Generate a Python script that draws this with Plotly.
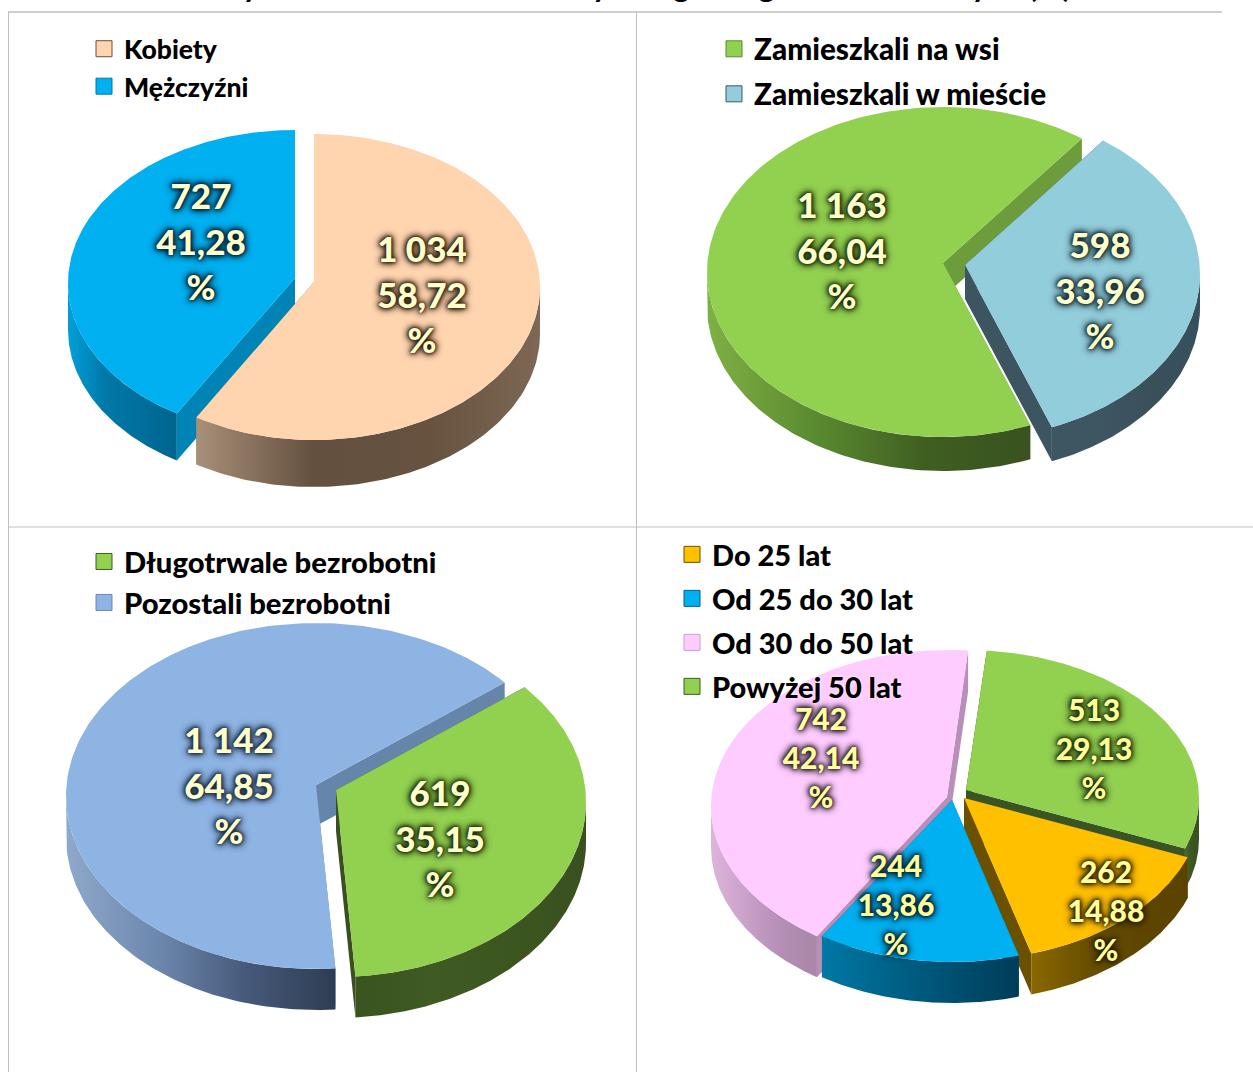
import numpy as np
import plotly.graph_objects as go

W, H = 1253, 1072
FONT = "Lato"

# ---------- data ----------
names_1 = ["Kobiety", "Mężczyźni"]
counts_1 = [1034, 727]
pcts_1 = ["58,72", "41,28"]

names_2 = ["Zamieszkali na wsi", "Zamieszkali w mieście"]
counts_2 = [1163, 598]
pcts_2 = ["66,04", "33,96"]

names_3 = ["Długotrwale bezrobotni", "Pozostali bezrobotni"]
counts_3 = [619, 1142]
pcts_3 = ["35,15", "64,85"]

names_4 = ["Do 25 lat", "Od 25 do 30 lat", "Od 30 do 50 lat", "Powyżej 50 lat"]
counts_4 = [262, 244, 742, 513]
pcts_4 = ["14,88", "13,86", "42,14", "29,13"]

title_text = "Wybrane dane o bezrobotnych wg kategorii bezrobotnych (%)"

# ---------- styles / layout ----------
PEACH = dict(top="#FFD5B0", face="#8f7762", side=["#a89079", "#64503f", "#66523f", "#7d6755"], glow="#2e1c0c")
SKY = dict(top="#00B0F0", face="#0084b6", side=["#00a0d8", "#0078a8", "#006f9c", "#00648c"], glow="#001f33")
GRN2 = dict(top="#92D050", face="#6d9c3c", side=["#7fb044", "#5a8a30", "#3f5f22", "#39521f"], glow="#1c2c0a")
LBLUE = dict(top="#92CDDC", face="#3c5560", side=["#3e5662", "#3e5662", "#3a505b", "#35505c"], glow="#152a30")
LAV = dict(top="#8EB4E3", face="#6585aa", side=["#8fa9cc", "#6d88ad", "#46597a", "#2e3d52"], glow="#1a2a40")
GRN3 = dict(top="#92D050", face="#3a4f20", side=["#3a5420", "#3f5a22", "#3c5620", "#3a5020"], glow="#1c2c0a")
PINK = dict(top="#FFCCFF", face="#b98fb9", side=["#dcb4dc", "#c8a0c8", "#b48eb4", "#a987a9"], glow="#2c1c2c")
BLU4 = dict(top="#00B0F0", face="#006a94", side=["#0078a6", "#006389", "#004f70", "#003d58"], glow="#001f33")
ORNG = dict(top="#FFC000", face="#6b5000", side=["#8a6800", "#6b5000", "#5e4600", "#5a4300"], glow="#2a1e00")
GRN4 = dict(top="#92D050", face="#3a5524", side=["#4a6a2a", "#3e5a24", "#3a5320", "#3a5320"], glow="#1c2c0a")

pies = [
    dict(names=names_1, counts=counts_1, pcts=pcts_1, start=0.0, depth=47, size=35, color="#FFFFCC",
         geom=[(314, 287, 226, 153, 314, 282), (295, 283, 227, 153, 295, 278)],
         styles=[PEACH, SKY], labels=[(422, 299), (201, 246)],
         legend=dict(name="legend", x=84, y=25, gap=0, size=26.5)),
    dict(names=names_2, counts=counts_2, pcts=pcts_2, start=158.3, depth=34, size=35, color="#FFFFCC",
         geom=[(943, 272, 236, 165, 943, 263), (965, 274, 235, 165, 965, 265)],
         styles=[GRN2, LBLUE], labels=[(842, 255), (1100, 295)],
         legend=dict(name="legend2", x=714, y=23, gap=3.4, size=29.7)),
    dict(names=names_3, counts=counts_3, pcts=pcts_3, start=49.0, depth=41, size=35, color="#FFFFCC",
         geom=[(336, 802, 250, 175, 336, 790), (316, 796, 250, 173, 316, 785)],
         styles=[GRN3, LAV], labels=[(440, 843), (229, 790)],
         legend=dict(name="legend3", x=84, y=536, gap=0, size=29.2)),
    dict(names=names_4, counts=counts_4, pcts=pcts_4, start=110.0, depth=41, size=30, color="#FFFF99",
         geom=[(964, 804, 238, 156, 964, 798), (952, 806, 236, 156, 952, 800),
               (947, 806, 236, 156, 947, 797), (966, 798, 233, 148, 966, 790)],
         styles=[ORNG, BLU4, PINK, GRN4], labels=[(1106, 914), (896, 908), (821, 761), (1094, 752)],
         legend=dict(name="legend4", x=672, y=529, gap=3.3, size=29)),
]


def fmt_count(v):
    return f"{v:,}".replace(",", " ")


def arc(g, a, b, n=120):
    cx, cy, rx, ry, _, _ = g
    t = np.radians(np.linspace(a, b, n))
    return cx + rx * np.sin(t), cy - ry * np.cos(t)


def front_ranges(a, b):
    """parts of the clockwise arc a..b lying on the viewer's side (90..270 mod 360)"""
    out = []
    for k in (-360, 0, 360):
        lo, hi = max(a, 90 + k), min(b, 270 + k)
        if hi > lo:
            out.append((lo, hi))
    return out


fig = go.Figure()
layout_legends = {}

for p in pies:
    total = sum(p["counts"])
    angles = p["start"] + np.concatenate([[0], np.cumsum(p["counts"])]) / total * 360
    spans = list(zip(angles[:-1], angles[1:]))
    mids = [(a + b) / 2 for a, b in spans]
    order = sorted(range(len(spans)), key=lambda i: np.cos(np.radians(mids[i])), reverse=True)

    # radial faces and outer walls first, then all the upper faces
    for i in order:
        a, b = spans[i]
        g, st, d = p["geom"][i], p["styles"][i], p["depth"]
        ax, ay = g[4], g[5]
        for ang in (a, b):
            ex, ey = arc(g, ang, ang, 1)
            fig.add_trace(go.Scatter(
                x=[ax, ex[0], ex[0], ax, ax], y=[ay, ey[0], ey[0] + d, ay + d, ay],
                mode="lines", line=dict(width=0), fill="toself", fillcolor=st["face"],
                hoverinfo="skip", showlegend=False))
        for lo, hi in front_ranges(a, b):
            x, y = arc(g, lo, hi)
            fig.add_trace(go.Scatter(
                x=np.concatenate([x, x[::-1], x[:1]]),
                y=np.concatenate([y, y[::-1] + d, y[:1]]),
                mode="lines", line=dict(width=0), fill="toself",
                fillgradient=dict(type="horizontal", colorscale=[
                    [0, st["side"][0]], [0.34, st["side"][1]], [0.67, st["side"][2]], [1, st["side"][3]]]),
                hoverinfo="skip", showlegend=False))
    for i in order:
        a, b = spans[i]
        g, st = p["geom"][i], p["styles"][i]
        x, y = arc(g, a, b, 200)
        fig.add_trace(go.Scatter(
            x=np.concatenate([[g[4]], x, [g[4]]]), y=np.concatenate([[g[5]], y, [g[5]]]),
            mode="lines", line=dict(width=0), fill="toself", fillcolor=st["top"],
            name=p["names"][i], hoverinfo="name", showlegend=False))

    # data labels
    for i in range(len(spans)):
        lx, ly = p["labels"][i]
        glow = p["styles"][i]["glow"]
        fig.add_trace(go.Scatter(
            x=[lx], y=[ly], mode="text",
            text=[f"{fmt_count(p['counts'][i])}<br>{p['pcts'][i]}<br>%"],
            textposition="middle center",
            textfont=dict(family=FONT, size=p["size"], color=p["color"], weight=900,
                          shadow=f"0 0 3px {glow}, 0 0 5px {glow}, 0 0 7px {glow}, 0 0 9px {glow}"),
            hoverinfo="skip", showlegend=False))

    # legend entries
    leg = p["legend"]
    for i, n in enumerate(p["names"]):
        st = p["styles"][i]
        fig.add_trace(go.Scatter(
            x=[None], y=[None], mode="markers", name=n, legend=leg["name"], legendgroup=n,
            marker=dict(symbol="square", size=18, color=st["top"],
                        line=dict(width=1, color=st["side"][1]))))
    layout_legends[leg["name"]] = dict(
        x=leg["x"] / W, y=1 - leg["y"] / H, xanchor="left", yanchor="top",
        bgcolor="rgba(0,0,0,0)", borderwidth=0, tracegroupgap=leg["gap"],
        font=dict(family=FONT, size=leg["size"], color="#000000", weight=900,
                  shadow="0 0 3px #ffffff"),
        itemclick=False, itemdoubleclick=False)

grid = "#BFBFBF"
shapes = [
    dict(type="line", x0=8, x1=1222, y0=12, y1=12, line=dict(color=grid, width=1.5)),
    dict(type="line", x0=8.5, x1=8.5, y0=12, y1=1072, line=dict(color=grid, width=1)),
    dict(type="line", x0=636.5, x1=636.5, y0=12, y1=1072, line=dict(color=grid, width=1)),
    dict(type="line", x0=8, x1=1253, y0=527, y1=527, line=dict(color=grid, width=1)),
]

fig.update_layout(
    width=W, height=H, margin=dict(l=0, r=0, t=0, b=0), autosize=False,
    paper_bgcolor="white", plot_bgcolor="white", showlegend=True,
    xaxis=dict(range=[0, W], visible=False, fixedrange=True),
    yaxis=dict(range=[H, 0], visible=False, fixedrange=True),
    shapes=shapes,
    annotations=[dict(x=640 / W, y=1 + 15 / H, xref="paper", yref="paper",
                      text=f"<b>{title_text}</b>", showarrow=False,
                      xanchor="center", yanchor="middle",
                      font=dict(family=FONT, size=31.5, color="#000000"))],
    **layout_legends,
)

fig.write_html("out.html", config=dict(displayModeBar=False),
               post_script="document.body.style.margin='0';document.body.style.overflow='hidden';")
